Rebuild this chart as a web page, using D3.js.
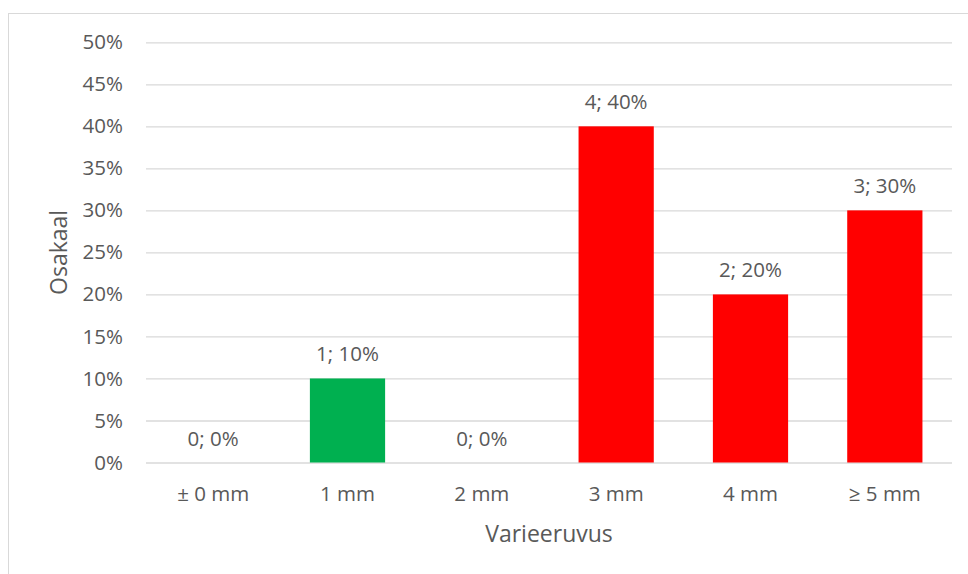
<!DOCTYPE html>
<html>
<head>
<meta charset="utf-8">
<script src="https://cdn.jsdelivr.net/npm/d3@7"></script>
<style>
  html, body { margin: 0; padding: 0; background: #fff; }
  svg { display: block; font-family: "Open Sans", sans-serif; }
</style>
</head>
<body>
<svg id="chart" width="968" height="574"></svg>
<script>
// Distribution of deviation sizes
const categories = ["± 0 mm", "1 mm", "2 mm", "3 mm", "4 mm", "≥ 5 mm"];
const counts = [0, 1, 0, 4, 2, 3];
const shares = [0, 0.10, 0, 0.40, 0.20, 0.30];
const yTicks = [0, 0.05, 0.10, 0.15, 0.20, 0.25, 0.30, 0.35, 0.40, 0.45, 0.50];
const yTitle = "Osakaal";
const xTitle = "Varieeruvus";

const svg = d3.select("#chart");
const textColor = "#595959";
const gridColor = "#d9d9d9";

// deviations up to 1 mm are acceptable (green), larger ones are not (red)
const color = d3.scaleOrdinal()
  .domain(categories)
  .range(["#00b050", "#00b050", "#ff0000", "#ff0000", "#ff0000", "#ff0000"]);

// chart frame
svg.append("rect")
  .attr("x", 8.5).attr("y", 13.5)
  .attr("width", 968).attr("height", 574)
  .attr("fill", "none").attr("stroke", gridColor).attr("stroke-width", 1);

const plot = { left: 146, right: 952, top: 42.3, bottom: 462.5 };

const x = d3.scaleBand()
  .domain(categories)
  .range([plot.left, plot.right])
  .paddingInner(0.44)
  .paddingOuter(0.22);

const y = d3.scaleLinear()
  .domain([0, 0.5])
  .range([plot.bottom, plot.top]);

// horizontal gridlines and y tick labels
const yAxis = d3.axisLeft(y)
  .tickValues(yTicks)
  .tickSize(-(plot.right - plot.left))
  .tickPadding(23)
  .tickFormat(d3.format(".0%"));

const yg = svg.append("g")
  .attr("transform", `translate(${plot.left},0)`)
  .call(yAxis);
yg.select(".domain").remove();
yg.selectAll(".tick line").attr("stroke", gridColor).attr("stroke-width", 1.3);
yg.selectAll(".tick text")
  .attr("fill", textColor)
  .attr("font-size", 20.5)
  .attr("font-family", "Open Sans, sans-serif");

// bars
svg.append("g")
  .selectAll("rect")
  .data(categories)
  .join("rect")
  .attr("x", d => x(d))
  .attr("width", x.bandwidth())
  .attr("y", (d, i) => y(shares[i]))
  .attr("height", (d, i) => y(0) - y(shares[i]))
  .attr("fill", d => color(d));

// value labels: "count; share"
svg.append("g")
  .selectAll("text")
  .data(categories)
  .join("text")
  .attr("x", d => x(d) + x.bandwidth() / 2)
  .attr("y", (d, i) => y(shares[i]) - 17)
  .attr("text-anchor", "middle")
  .attr("fill", textColor)
  .attr("font-size", 20.5)
  .text((d, i) => `${counts[i]}; ${d3.format(".0%")(shares[i])}`);

// category labels
const xAxis = d3.axisBottom(x).tickSize(0).tickPadding(0);
const xg = svg.append("g")
  .attr("transform", `translate(0,${plot.bottom})`)
  .call(xAxis);
xg.select(".domain").remove();
xg.selectAll(".tick text")
  .attr("y", 38.5)
  .attr("dy", null)
  .attr("fill", textColor)
  .attr("font-size", 20.5)
  .attr("font-family", "Open Sans, sans-serif");

// axis titles
svg.append("text")
  .attr("x", (plot.left + plot.right) / 2)
  .attr("y", 541.5)
  .attr("text-anchor", "middle")
  .attr("fill", textColor)
  .attr("font-size", 23)
  .text(xTitle);

svg.append("text")
  .attr("transform", `translate(67,${(plot.top + plot.bottom) / 2}) rotate(-90)`)
  .attr("text-anchor", "middle")
  .attr("fill", textColor)
  .attr("font-size", 23)
  .text(yTitle);
</script>
</body>
</html>
